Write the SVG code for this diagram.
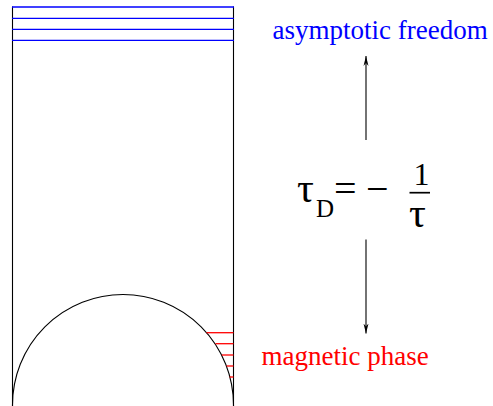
<svg xmlns="http://www.w3.org/2000/svg" width="493" height="406" viewBox="0 0 493 406">
<defs>
<style>
.frame{stroke:#000;stroke-width:1.1;fill:none}
.blue{stroke:#0000ff;stroke-width:1.3}
.red{stroke:#ff0000;stroke-width:1.3}
.arrow{stroke:#000;stroke-width:1.1;fill:none}
.tx{font-family:'Liberation Serif','Times New Roman',serif}
</style>
<marker id="ah" viewBox="0 0 10 12" refX="10" refY="6" markerWidth="10" markerHeight="12" markerUnits="userSpaceOnUse" orient="auto">
<path d="M0,3.5 L10,6 L0,8.5 L3,6 Z" fill="#000"/>
</marker>
</defs>
<rect width="493" height="406" fill="#fff"/>
<g id="column">
<line class="frame" x1="12.5" y1="6.5" x2="12.5" y2="406"/>
<line class="frame" x1="233.5" y1="6.5" x2="233.5" y2="406"/>
<line class="blue" x1="12" y1="7" x2="234" y2="7"/>
<line class="blue" x1="12" y1="18.3" x2="234" y2="18.3"/>
<line class="blue" x1="12" y1="29.3" x2="234" y2="29.3"/>
<line class="blue" x1="12" y1="40.3" x2="234" y2="40.3"/>
<path class="frame" d="M12.5,406 L12.5,405 A110.5,110.5 0 0 1 233.5,405 L233.5,406"/>
<line class="red" x1="206.5" y1="332.7" x2="233.5" y2="332.7"/>
<line class="red" x1="215.5" y1="343.7" x2="233.5" y2="343.7"/>
<line class="red" x1="221.8" y1="355" x2="233.5" y2="355"/>
<line class="red" x1="226.6" y1="366" x2="233.5" y2="366"/>
<line class="red" x1="229.6" y1="377" x2="233.5" y2="377"/>
</g>
<g id="connectors">
<line class="arrow" x1="366" y1="140" x2="366" y2="56" marker-end="url(#ah)"/>
<line class="arrow" x1="366" y1="239.5" x2="366" y2="333.5" marker-end="url(#ah)"/>
</g>
<g id="label-af">
<text class="tx" x="272.5" y="38.5" font-size="27" fill="#0000ff">asymptotic freedom</text>
</g>
<g id="label-mp">
<text class="tx" x="261.5" y="365" font-size="27" fill="#ff0000">magnetic phase</text>
</g>
<g id="formula" fill="#000">
<text class="tx" x="297" y="201.5" font-size="42">τ</text>
<text class="tx" x="316" y="216.7" font-size="25">D</text>
<text class="tx" x="334" y="201.5" font-size="40">=</text>
<text class="tx" x="366" y="201.5" font-size="40">−</text>
<text class="tx" x="413.5" y="185" font-size="32">1</text>
<line x1="409.5" y1="192.7" x2="430" y2="192.7" stroke="#000" stroke-width="1.7"/>
<text class="tx" x="409" y="227" font-size="42">τ</text>
</g>
</svg>
